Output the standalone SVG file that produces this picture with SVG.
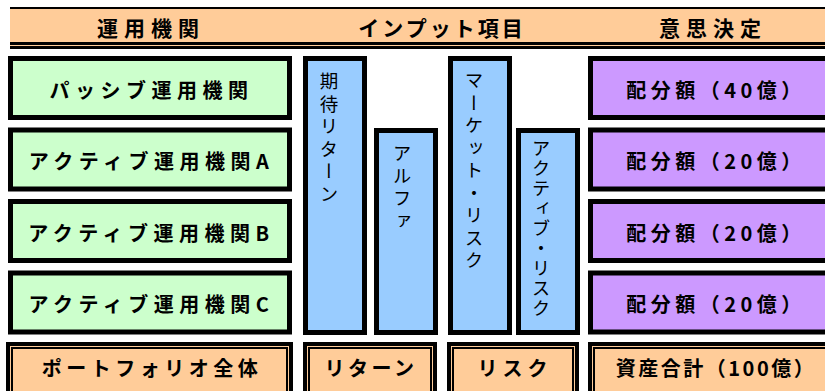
<svg xmlns="http://www.w3.org/2000/svg" width="825" height="391" viewBox="0 0 825 391">
<style>
.t{font-family:"Noto Sans CJK JP","Noto Sans CJK SC",sans-serif;fill:#000}
.hdr{font-weight:bold;font-size:21px;text-anchor:middle;dominant-baseline:central}
.lbl{font-weight:bold;font-size:20px;letter-spacing:5.5px;text-anchor:middle;dominant-baseline:central}
.vt{font-size:18.5px;writing-mode:vertical-rl;letter-spacing:4px}
.bx{stroke:#000;stroke-width:5}
.g{fill:#CCFFCC}.p{fill:#CC99FF}.b{fill:#99CCFF}.o{fill:#FFCC99}
.ob{stroke:#000;stroke-width:4;fill:#FFCC99}
.ib{stroke:#000;stroke-width:2;fill:none}
</style>
<rect width="825" height="391" fill="#fff"/>
<g id="header">
<rect x="10" y="7" width="830" height="42" fill="#000"/>
<rect x="10" y="9" width="830" height="33" class="o"/>
<rect x="10" y="45" width="830" height="1" class="o"/>
<text class="t hdr" x="151" y="27" style="letter-spacing:6px">運用機関</text>
<text class="t hdr" x="442" y="27" style="letter-spacing:3px">インプット項目</text>
<text class="t hdr" x="713" y="27" style="letter-spacing:6px">意思決定</text>
</g>
<g id="inst-passive">
<rect class="bx g" x="10.5" y="58.5" width="279" height="59"/>
<text class="t lbl" x="151.5" y="89">パッシブ運用機関</text>
</g>
<g id="inst-a">
<rect class="bx g" x="10.5" y="130" width="279" height="59"/>
<text class="t lbl" x="151.5" y="160.5">アクティブ運用機関A</text>
</g>
<g id="inst-b">
<rect class="bx g" x="10.5" y="201.5" width="279" height="59"/>
<text class="t lbl" x="151.5" y="232">アクティブ運用機関B</text>
</g>
<g id="inst-c">
<rect class="bx g" x="10.5" y="273" width="279" height="59"/>
<text class="t lbl" x="151.5" y="303.5">アクティブ運用機関C</text>
</g>
<g id="bar-expected-return">
<rect class="bx b" x="305.5" y="58.5" width="59" height="274"/>
<text class="t vt" x="329" y="72">期待リターン</text>
</g>
<g id="bar-alpha">
<rect class="bx b" x="376.5" y="130.5" width="59" height="202"/>
<text class="t vt" x="402" y="144">アルファ</text>
</g>
<g id="bar-market-risk">
<rect class="bx b" x="450.5" y="58.5" width="59" height="274"/>
<text class="t vt" x="474" y="71">マーケット・リスク</text>
</g>
<g id="bar-active-risk">
<rect class="bx b" x="518.5" y="130.5" width="59" height="202"/>
<text class="t vt" x="541" y="139" style="letter-spacing:1.5px">アクティブ・リスク</text>
</g>
<g id="alloc-40">
<rect class="bx p" x="590.5" y="58.5" width="260" height="59"/>
<text class="t lbl" x="716" y="89" style="letter-spacing:4.5px">配分額（40億）</text>
</g>
<g id="alloc-20a">
<rect class="bx p" x="590.5" y="130" width="260" height="59"/>
<text class="t lbl" x="716" y="160.5" style="letter-spacing:4.5px">配分額（20億）</text>
</g>
<g id="alloc-20b">
<rect class="bx p" x="590.5" y="201.5" width="260" height="59"/>
<text class="t lbl" x="716" y="232" style="letter-spacing:4.5px">配分額（20億）</text>
</g>
<g id="alloc-20c">
<rect class="bx p" x="590.5" y="273" width="260" height="59"/>
<text class="t lbl" x="716" y="303.5" style="letter-spacing:4.5px">配分額（20億）</text>
</g>
<g id="total-portfolio">
<rect class="ob" x="8" y="344" width="283" height="60"/>
<rect class="ib" x="12" y="348" width="275" height="52"/>
<text class="t lbl" x="152" y="367" style="letter-spacing:4.5px">ポートフォリオ全体</text>
</g>
<g id="total-return">
<rect class="ob" x="305" y="344" width="130" height="60"/>
<rect class="ib" x="309" y="348" width="122" height="52"/>
<text class="t lbl" x="371" y="367" style="letter-spacing:3.5px">リターン</text>
</g>
<g id="total-risk">
<rect class="ob" x="449" y="344" width="128" height="60"/>
<rect class="ib" x="453" y="348" width="120" height="52"/>
<text class="t lbl" x="515" y="367" style="letter-spacing:5px">リスク</text>
</g>
<g id="total-assets">
<rect class="ob" x="590" y="344" width="253" height="60"/>
<rect class="ib" x="594" y="348" width="245" height="52"/>
<text class="t lbl" x="716" y="367" style="letter-spacing:2.5px">資産合計（100億）</text>
</g>
<g id="connectors"></g>
</svg>
